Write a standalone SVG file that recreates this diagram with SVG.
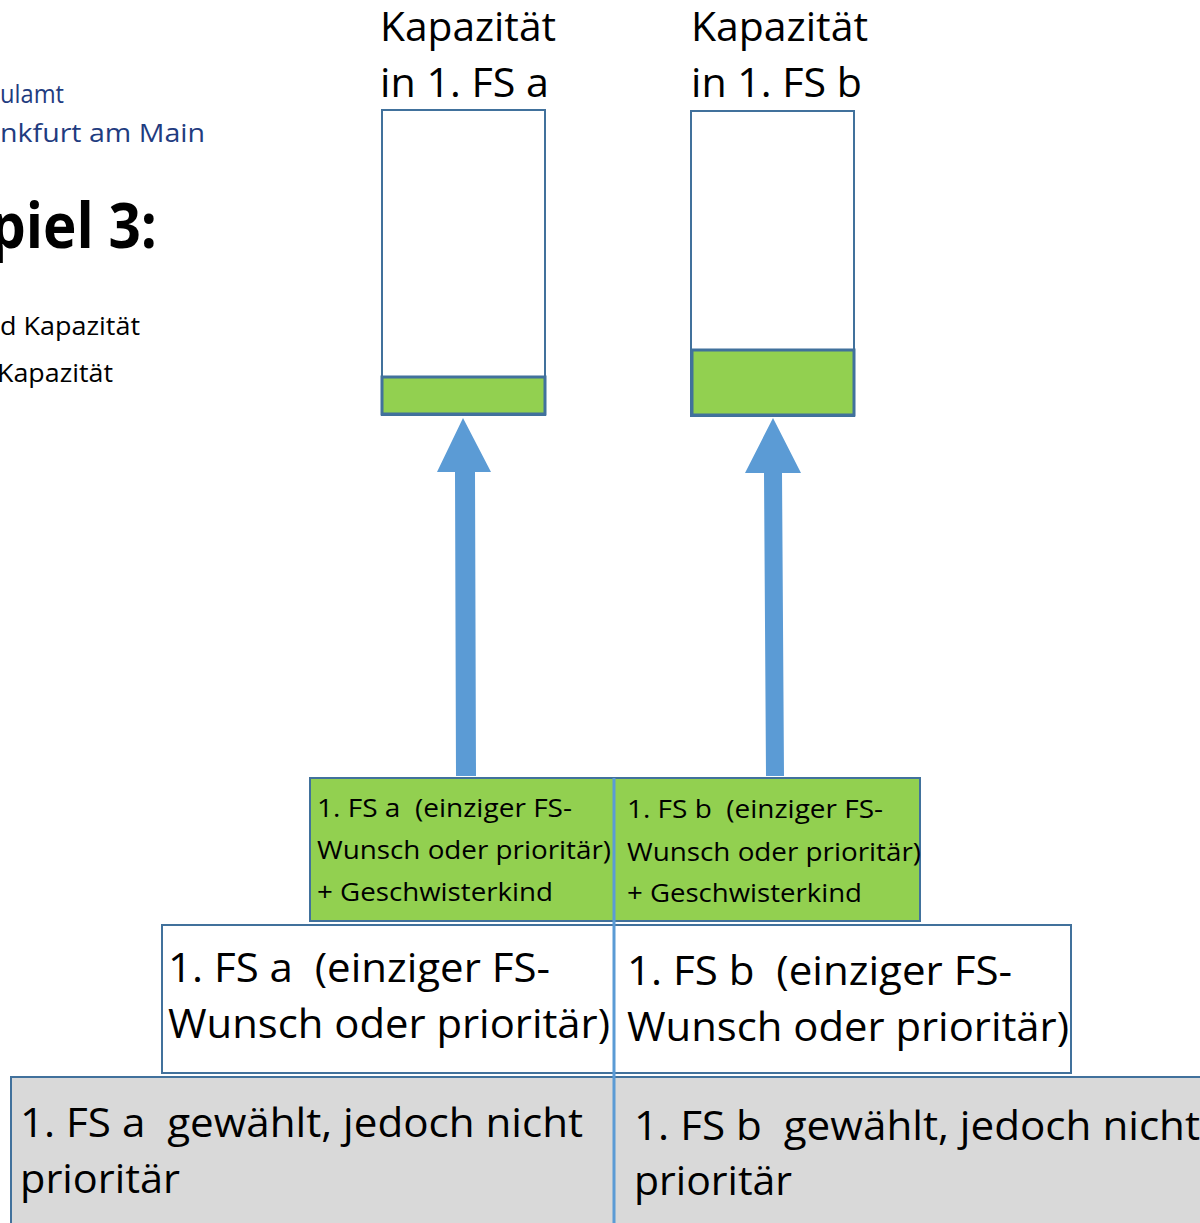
<svg xmlns="http://www.w3.org/2000/svg" width="1200" height="1223" viewBox="0 0 1200 1223">
<style>
text{font-family:"Open Sans","Liberation Sans",sans-serif;fill:#000;white-space:pre}
.hdr{fill:#1f3c80;font-size:26px}
.cap{font-size:40px}
.g{font-size:26px}
.w{font-size:40px}
.gr{font-size:40px}
.box{stroke:#41719c;stroke-width:2}
.arrow{fill:#5b9bd5}
</style>
<rect width="1200" height="1223" fill="#fff"/>
<g id="header">
<text class="hdr" x="0" y="103" textLength="64" lengthAdjust="spacingAndGlyphs">ulamt</text>
<text class="hdr" x="0" y="142" textLength="205" lengthAdjust="spacingAndGlyphs">nkfurt am Main</text>
<text x="-10" y="248" font-size="62" font-weight="bold" textLength="167" lengthAdjust="spacingAndGlyphs">piel 3:</text>
<text x="0" y="335" font-size="25" textLength="140" lengthAdjust="spacingAndGlyphs">d Kapazität</text>
<text x="-3" y="382" font-size="25" textLength="116" lengthAdjust="spacingAndGlyphs">Kapazität</text>
</g>
<g id="cap-a">
<text class="cap" x="380" y="41" textLength="176" lengthAdjust="spacingAndGlyphs">Kapazität</text>
<text class="cap" x="380" y="97" textLength="169" lengthAdjust="spacingAndGlyphs">in 1. FS a</text>
<rect class="box" x="382" y="110" width="163" height="305" fill="#fff"/>
<rect x="382" y="377" width="163" height="37" fill="#92d050" stroke="#41719c" stroke-width="3"/>
</g>
<g id="cap-b">
<text class="cap" x="691" y="41" textLength="177" lengthAdjust="spacingAndGlyphs">Kapazität</text>
<text class="cap" x="691" y="97" textLength="171" lengthAdjust="spacingAndGlyphs">in 1. FS b</text>
<rect class="box" x="691" y="111" width="163" height="305" fill="#fff"/>
<rect x="692" y="350" width="162" height="65" fill="#92d050" stroke="#41719c" stroke-width="3"/>
</g>
<g id="connectors">
<polygon class="arrow" points="463,418 491,472 475,472 476,776 456,776 455,472 437,472"/>
<polygon class="arrow" points="773,418 801,473 782,473 784,776 766,776 764,473 745,473"/>
</g>
<g id="gray-a">
<rect x="11" y="1077" width="603" height="160" fill="#d9d9d9" class="box"/>
<text class="gr" x="20" y="1137" textLength="563" lengthAdjust="spacingAndGlyphs">1. FS a  gewählt, jedoch nicht</text>
<text class="gr" x="20" y="1193" textLength="160" lengthAdjust="spacingAndGlyphs">prioritär</text>
</g>
<g id="gray-b">
<rect x="614" y="1077" width="600" height="160" fill="#d9d9d9" class="box"/>
<text class="gr" x="634" y="1140" textLength="566" lengthAdjust="spacingAndGlyphs">1. FS b  gewählt, jedoch nicht</text>
<text class="gr" x="634" y="1195" textLength="158" lengthAdjust="spacingAndGlyphs">prioritär</text>
</g>
<g id="white-a">
<rect x="162" y="925" width="452" height="148" fill="#fff" class="box"/>
<text class="w" x="168" y="982" textLength="382" lengthAdjust="spacingAndGlyphs">1. FS a  (einziger FS-</text>
<text class="w" x="168" y="1038" textLength="442" lengthAdjust="spacingAndGlyphs">Wunsch oder prioritär)</text>
</g>
<g id="white-b">
<rect x="614" y="925" width="457" height="148" fill="#fff" class="box"/>
<text class="w" x="627" y="985" textLength="385" lengthAdjust="spacingAndGlyphs">1. FS b  (einziger FS-</text>
<text class="w" x="627" y="1041" textLength="442" lengthAdjust="spacingAndGlyphs">Wunsch oder prioritär)</text>
</g>
<g id="green-a">
<rect x="310" y="778" width="304" height="143" fill="#92d050" class="box"/>
<text class="g" x="317" y="817" textLength="255" lengthAdjust="spacingAndGlyphs">1. FS a  (einziger FS-</text>
<text class="g" x="317" y="859" textLength="294" lengthAdjust="spacingAndGlyphs">Wunsch oder prioritär)</text>
<text class="g" x="317" y="901" textLength="236" lengthAdjust="spacingAndGlyphs">+ Geschwisterkind</text>
</g>
<g id="green-b">
<rect x="614" y="778" width="306" height="143" fill="#92d050" class="box"/>
<text class="g" x="627" y="818" textLength="256" lengthAdjust="spacingAndGlyphs">1. FS b  (einziger FS-</text>
<text class="g" x="627" y="861" textLength="294" lengthAdjust="spacingAndGlyphs">Wunsch oder prioritär)</text>
<text class="g" x="627" y="902" textLength="235" lengthAdjust="spacingAndGlyphs">+ Geschwisterkind</text>
</g>
<g id="divider">
<line x1="614" y1="778" x2="614" y2="1223" stroke="#5b9bd5" stroke-width="3"/>
</g>
</svg>
